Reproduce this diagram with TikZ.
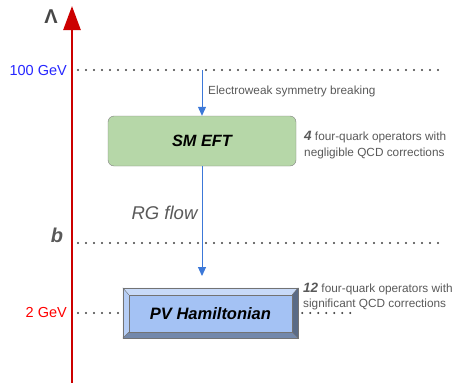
\documentclass[tikz,border=0pt]{standalone}
\usepackage{fontspec}
\setmainfont{Liberation Sans}
\usetikzlibrary{arrows.meta}
\definecolor{axisred}{HTML}{CC0000}
\definecolor{flowblue}{HTML}{3C78D8}
\definecolor{eftgreen}{HTML}{B6D7A8}
\definecolor{pvblue}{HTML}{A4C2F4}
\definecolor{notegray}{HTML}{595959}
\begin{document}
\begin{tikzpicture}[x=1pt,y=-1pt]
    \tikzstyle{scale line}=[draw=black!75, line width=2.3pt, line cap=round, dash pattern=on 0pt off 8pt]
    \tikzstyle{flow}=[draw=flowblue, line width=1pt, -{Triangle[length=9pt,width=8pt]}]
    \tikzstyle{note}=[text=notegray, font=\fontsize{11.8}{15.5}\selectfont, align=left, anchor=west, inner sep=0pt]
    \tikzstyle{tick}=[font=\fontsize{14.5}{16}\selectfont, anchor=east, inner sep=0pt]
    \useasboundingbox (0,0) rectangle (456,383);

    % energy axis
    \coordinate (A-0) at (72,383);
    \coordinate (A-1) at (72,6);
    \draw[axisred, line width=2.6pt, -{Triangle[length=24pt,width=17pt]}] (A-0) -- (A-1);
    \node[text=notegray!80!black, font=\bfseries\fontsize{20}{22}\selectfont, inner sep=0pt] (L) at (51,17) {Λ};

    % scale lines
    \node[tick, text=blue!85!white] (T-1) at (67,71) {100 GeV};
    \coordinate (S-1a) at (78,70);
    \coordinate (S-1b) at (440,70);
    \draw[scale line] (S-1a) -- (S-1b);

    \node[text=notegray, font=\bfseries\itshape\fontsize{20}{22}\selectfont, inner sep=0pt] (T-2) at (57,235) {b};
    \coordinate (S-2a) at (78,243);
    \coordinate (S-2b) at (440,243);
    \draw[scale line] (S-2a) -- (S-2b);

    \node[tick, text=red] (T-3) at (67,313) {2 GeV};

    % effective theories
    \node[draw=black!50, fill=eftgreen, rounded corners=6pt, minimum width=188pt, minimum height=50pt,
          font=\bfseries\itshape\fontsize{16.3}{18}\selectfont] (EFT) at (202,141) {SM EFT};

    \node[fill=pvblue!90!black, draw=black!55, minimum width=175pt, minimum height=50pt] (PV) at (210.5,313) {};
    \fill[pvblue!60!white] (PV.north west) -- (PV.north east) -- ++(-6,7) -- ([xshift=6pt,yshift=-7pt]PV.north west) -- cycle;
    \fill[pvblue!80!white] (PV.north west) -- (PV.south west) -- ++(6,-6) -- ([xshift=6pt,yshift=-7pt]PV.north west) -- cycle;
    \fill[pvblue!55!black] (PV.north east) -- (PV.south east) -- ++(-6,-6) -- ([xshift=-6pt,yshift=-7pt]PV.north east) -- cycle;
    \fill[pvblue!70!black] (PV.south west) -- (PV.south east) -- ++(-6,-6) -- ([xshift=6pt,yshift=6pt]PV.south west) -- cycle;
    \node[fill=pvblue, draw=black!55, minimum width=163pt, minimum height=37pt,
          font=\bfseries\itshape\fontsize{16.5}{18}\selectfont] (PV-in) at (210.5,313.5) {PV Hamiltonian};
    \draw[black!55] (PV.north west) -- (PV-in.north west) (PV.north east) -- (PV-in.north east)
                    (PV.south west) -- (PV-in.south west) (PV.south east) -- (PV-in.south east);
    \draw[black!55] (PV.north west) rectangle (PV.south east);

    \coordinate (S-3a) at (78,313);
    \coordinate (S-3b) at (355,313);
    \draw[scale line] (S-3a) -- (PV.west);
    \draw[scale line] ([xshift=4pt]PV.east) -- (S-3b);

    % running
    \coordinate (F-0) at (202,70);
    \draw[flow] (F-0) -- (EFT.north);
    \draw[flow] (EFT.south) -- (202,276);
    \node[note] (EW) at (208,91) {Electroweak symmetry breaking};
    \node[text=notegray, font=\itshape\fontsize{18.5}{20}\selectfont, inner sep=0pt] (RG) at (164.5,213) {RG flow};

    \node[note] (N-1) at (304,145) {\textbf{\itshape\fontsize{13.5}{15}\selectfont 4} four-quark operators with\\negligible QCD corrections};
    \node[note] (N-2) at (303,296.5) {\textbf{\itshape\fontsize{13.5}{15}\selectfont 12} four-quark operators with\\significant QCD corrections};
\end{tikzpicture}
\end{document}
